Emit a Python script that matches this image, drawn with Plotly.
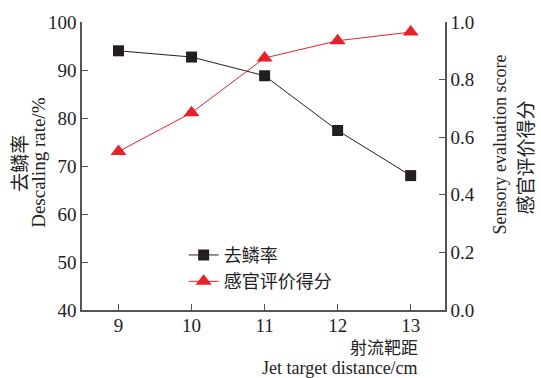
import plotly.graph_objects as go

# Jet target distance (cm)
distance = [9, 10, 11, 12, 13]
# Descaling rate (%)
descaling_rate = [94.0, 92.7, 88.8, 77.4, 68.0]
# Sensory evaluation score
sensory_score = [0.55, 0.685, 0.875, 0.935, 0.965]

left_ticks = [40, 50, 60, 70, 80, 90, 100]
right_ticks = [0.0, 0.2, 0.4, 0.6, 0.8, 1.0]
right_tick_text = ["0.0", "0.2", "0.4", "0.6", "0.8", "1.0"]

SERIF = "Liberation Serif, Times New Roman, serif"
CJK = "Noto Sans CJK SC"
AXIS_COLOR = "#555555"
TEXT_COLOR = "#222222"

fig = go.Figure()

fig.add_trace(go.Scatter(
    x=distance, y=descaling_rate, name="去鳞率",
    mode="lines+markers",
    line=dict(color="#222222", width=1),
    marker=dict(symbol="square", size=11, color="#231f20"),
    yaxis="y",
))
fig.add_trace(go.Scatter(
    x=distance, y=sensory_score, name="感官评价得分",
    mode="lines+markers",
    line=dict(color="#e8202a", width=1),
    marker=dict(symbol="triangle-up", size=14, color="#e8202a"),
    yaxis="y2",
))

axis_common = dict(
    showgrid=False, zeroline=False, showline=True,
    linecolor=AXIS_COLOR, linewidth=1.5,
    ticks="inside", ticklen=6, tickwidth=1.2, tickcolor=AXIS_COLOR,
    tickfont=dict(family=SERIF, size=19, color=TEXT_COLOR),
)

fig.update_layout(
    width=541, height=378,
    margin=dict(l=82, r=96, t=14, b=68),
    paper_bgcolor="white", plot_bgcolor="white",
    showlegend=True,
    legend=dict(
        x=0.28, y=0.145, xanchor="left", yanchor="middle",
        bgcolor="rgba(0,0,0,0)",
        font=dict(family=CJK, size=18, color=TEXT_COLOR),
        itemwidth=30, tracegroupgap=0,
    ),
    xaxis=dict(
        range=[8.5, 13.47], tickvals=distance,
        mirror=False, ticklabelstandoff=-3, **axis_common,
    ),
    yaxis=dict(
        range=[40, 100], tickvals=left_ticks,
        **axis_common,
    ),
    yaxis2=dict(
        range=[0, 1], tickvals=right_ticks, ticktext=right_tick_text,
        overlaying="y", side="right", anchor="x",
        **axis_common,
    ),
)

# Axis titles (two lines each: Chinese and English)
fig.add_annotation(text="去鳞率", xref="paper", yref="paper",
                   x=-0.177, y=0.51, xanchor="center", yanchor="middle",
                   textangle=-90, showarrow=False,
                   font=dict(family=CJK, size=19, color=TEXT_COLOR))
fig.add_annotation(text="Descaling rate/%", xref="paper", yref="paper",
                   x=-0.122, y=0.51, xanchor="center", yanchor="middle",
                   textangle=-90, showarrow=False,
                   font=dict(family=SERIF, size=19, color=TEXT_COLOR))
fig.add_annotation(text="Sensory evaluation score", xref="paper", yref="paper",
                   x=1.152, y=0.575, xanchor="center", yanchor="middle",
                   textangle=-90, showarrow=False,
                   font=dict(family=SERIF, size=18, color=TEXT_COLOR))
fig.add_annotation(text="感官评价得分", xref="paper", yref="paper",
                   x=1.218, y=0.53, xanchor="center", yanchor="middle",
                   textangle=-90, showarrow=False,
                   font=dict(family=CJK, size=19, color=TEXT_COLOR))
fig.add_annotation(text="射流靶距", xref="paper", yref="paper",
                   x=0.931, y=-0.125, xanchor="right", yanchor="middle",
                   showarrow=False,
                   font=dict(family=CJK, size=17, color=TEXT_COLOR))
fig.add_annotation(text="Jet target distance/cm", xref="paper", yref="paper",
                   x=0.931, y=-0.203, xanchor="right", yanchor="middle",
                   showarrow=False,
                   font=dict(family=SERIF, size=18, color=TEXT_COLOR))

fig.write_html("out.html")
